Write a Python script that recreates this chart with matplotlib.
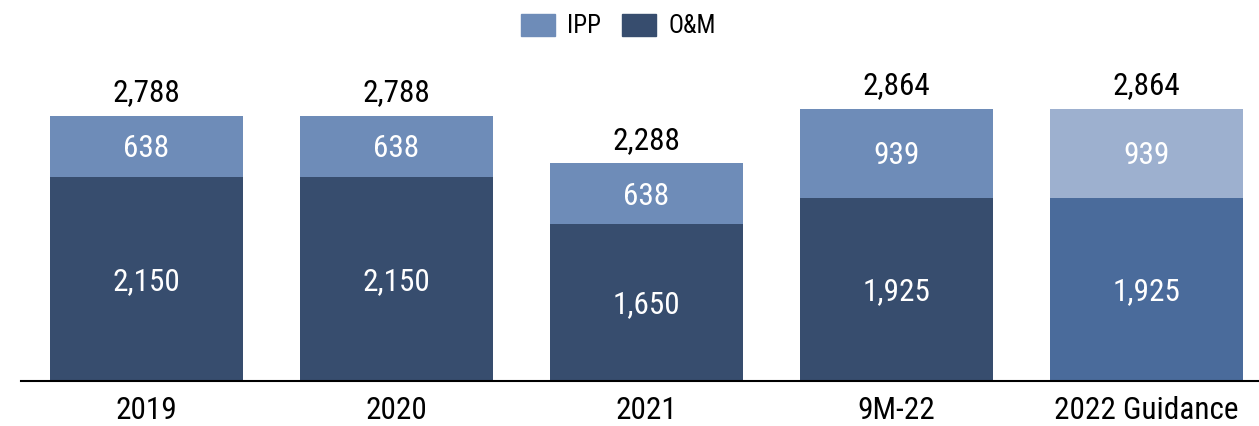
import matplotlib.pyplot as plt
from matplotlib.patches import Patch

# data
categories = ['2019', '2020', '2021', '9M-22', '2022 Guidance']
om = [2150, 2150, 1650, 1925, 1925]
ipp = [638, 638, 638, 939, 939]
totals = [2788, 2788, 2288, 2864, 2864]
om_labels = ['2,150', '2,150', '1,650', '1,925', '1,925']
ipp_labels = ['638', '638', '638', '939', '939']
total_labels = ['2,788', '2,788', '2,288', '2,864', '2,864']

# colours (last bar is the lighter guidance bar)
om_colors = ['#374D6E'] * 4 + ['#4A6B9B']
ipp_colors = ['#6E8CB8'] * 4 + ['#9DB0CF']

cond = ['Roboto Condensed', 'DejaVu Sans']
fs = 22.5

fig = plt.figure(figsize=(12.59, 4.26), dpi=100)
ax = fig.add_axes([21 / 1259, 45 / 426, 1 - 21 / 1259, 321 / 426])

x = range(len(categories))
w = 0.77
ax.bar(x, om, width=w, color=om_colors)
ax.bar(x, ipp, width=w, bottom=om, color=ipp_colors)

# half digit height in data units, so digits sit centred in each segment
half = 115
for i in x:
    ax.text(i, om[i] / 2 - half, om_labels[i], ha='center', va='baseline',
            color='white', fontsize=fs, family=cond)
    ax.text(i, om[i] + ipp[i] / 2 - half, ipp_labels[i], ha='center', va='baseline',
            color='white', fontsize=fs, family=cond)
    ax.text(i, totals[i] + 150, total_labels[i], ha='center', va='baseline',
            color='black', fontsize=fs, family=cond)

ax.set_xlim(-0.502, 4.45)
ax.set_ylim(0, 3375)
ax.set_xticks(list(x))
ax.set_xticklabels(categories, fontsize=fs, family=cond)
ax.tick_params(axis='x', length=0, pad=11)
ax.set_yticks([])
for s in ['top', 'right', 'left']:
    ax.spines[s].set_visible(False)
ax.spines['bottom'].set_linewidth(1.5)

handles = [Patch(color='#6E8CB8', label='IPP'), Patch(color='#374D6E', label='O&M')]
fig.legend(handles=handles, loc='center', bbox_to_anchor=(0.4913, 1 - 26 / 426),
           ncol=2, frameon=False, prop={'family': cond, 'size': 18},
           handlelength=1.36, handleheight=1.0, columnspacing=0.85, handletextpad=0.48)

plt.savefig('out.png', dpi=100)
